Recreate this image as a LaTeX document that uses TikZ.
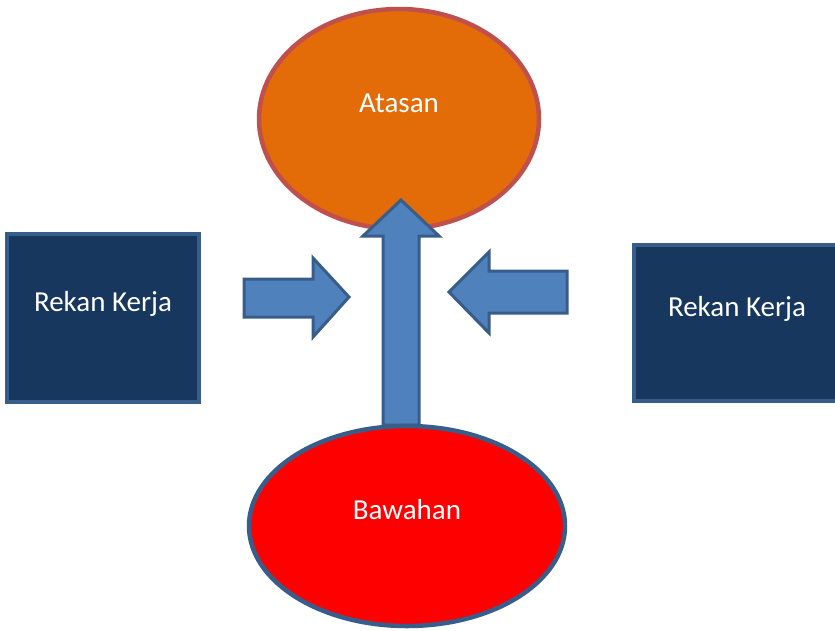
\documentclass[tikz,border=0pt]{standalone}
\usepackage{fontspec}
\setmainfont{Carlito}
\usetikzlibrary{shapes.geometric}
\definecolor{oranye}{HTML}{E36C09}
\definecolor{merahbata}{HTML}{C0504D}
\definecolor{birutepi}{HTML}{385D8A}
\definecolor{birupanah}{HTML}{4F81BD}
\definecolor{birugelap}{HTML}{17375E}

\begin{document}
\begin{tikzpicture}[x=1pt, y=-1pt,
		every node/.style={font=\fontsize{29}{35}\selectfont, text=white, text height=20pt, text depth=34pt},
		kotak/.style={draw=birutepi, fill=birugelap, line width=4pt, minimum width=192pt, minimum height=168pt},
		panah/.style={draw=birutepi, fill=birupanah, line width=3pt, line join=miter}]
			\useasboundingbox (0,0) rectangle (835,630);
			\clip (0,0) rectangle (835,630);
			\node [draw=merahbata, fill=oranye, ellipse, line width=4.5pt, minimum width=280pt, minimum height=220pt] (atasan) at (399,119) {Atasan};
			\draw [panah] (383,425) -- (383,236) -- (363,236) -- (401,200) -- (439,236) -- (419,236) -- (419,425) -- cycle;
			\node [draw=birutepi, fill=red, ellipse, line width=4.5pt, minimum width=316pt, minimum height=200pt] (bawahan) at (407,526) {Bawahan};
			\node [kotak] (rekan1) at (103,318) {Rekan Kerja};
			\node [kotak, minimum width=206pt, minimum height=156pt] (rekan2) at (737,323) {Rekan Kerja};
			\draw [panah] (244,279) -- (313,279) -- (313,258) -- (349,297) -- (313,337) -- (313,317) -- (244,317) -- cycle;
			\draw [panah] (567,271) -- (489,271) -- (489,252) -- (449,292) -- (489,333) -- (489,313) -- (567,313) -- cycle;
		\end{tikzpicture}
\end{document}
